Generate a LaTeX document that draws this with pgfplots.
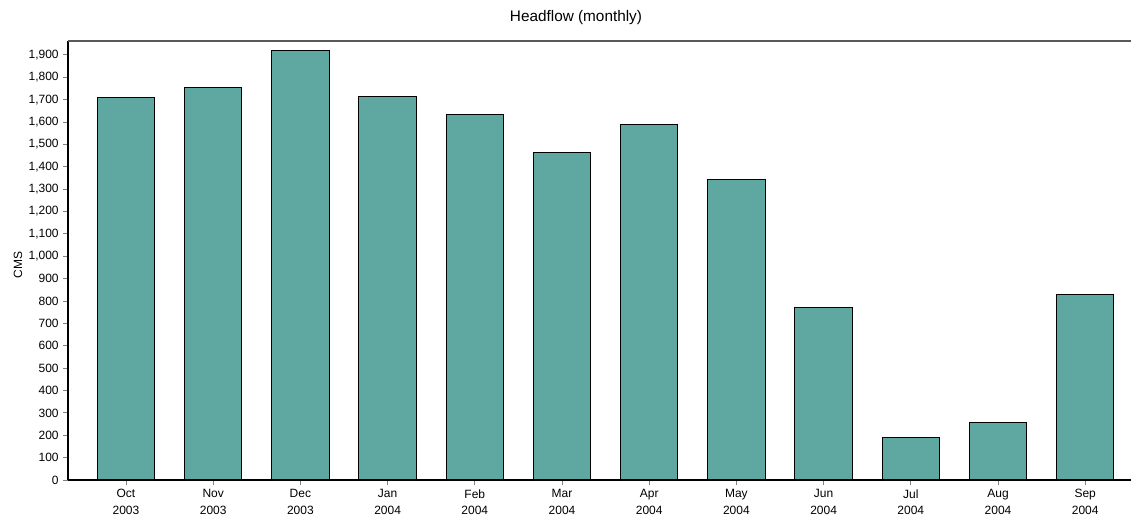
\documentclass[border=0pt]{standalone}
\usepackage{fontspec}
\setmainfont{Liberation Sans}
\usepackage{pgfplots}
\pgfplotsset{compat=1.18}
\definecolor{barteal}{HTML}{5FA7A1}
\begin{document}
\begin{tikzpicture}[x=1pt,y=1pt]
\path[use as bounding box] (0,0) rectangle (848.25,390.75);
\begin{axis}[
  at={(51pt,30.75pt)}, anchor=south west,
  scale only axis, width=797.25pt, height=329.25pt,
  xmin=-0.665, xmax=11.525, ymin=0, ymax=1962,
  axis x line*=bottom, axis y line*=left,
  axis line style={black, line width=1.5pt, -},
  ybar, bar width=43pt,
  xtick={0,...,11},
  xticklabels={{Oct\\2003},{Nov\\2003},{Dec\\2003},{Jan\\2004},{Feb\\2004},{Mar\\2004},{Apr\\2004},{May\\2004},{Jun\\2004},{Jul\\2004},{Aug\\2004},{Sep\\2004}},
  xticklabel style={align=center, font=\fontsize{9}{12.5}\selectfont},
  ytick={0,100,...,1900},
  yticklabel style={font=\fontsize{9}{11}\selectfont},
  /pgf/number format/.cd, 1000 sep={,}, assume math mode=true,
  /pgfplots/.cd,
  tick align=outside, major tick length=3.5pt,
  tick style={gray, line width=0.6pt},
  clip=false,
]
\addplot[fill=barteal, draw=black, line width=0.8pt] coordinates {
(0,1709) (1,1754) (2,1918) (3,1712) (4,1632) (5,1462) (6,1587) (7,1341) (8,773) (9,192) (10,255) (11,831)};
\draw[black!65, line width=1.5pt] (rel axis cs:0,1) -- (rel axis cs:1,1);
\end{axis}
\node[font=\fontsize{11.5}{13}\selectfont] at (432,377.25) {Headflow (monthly)};
\node[rotate=90, font=\fontsize{9}{11}\selectfont] at (13.5,192) {CMS};
\end{tikzpicture}
\end{document}
